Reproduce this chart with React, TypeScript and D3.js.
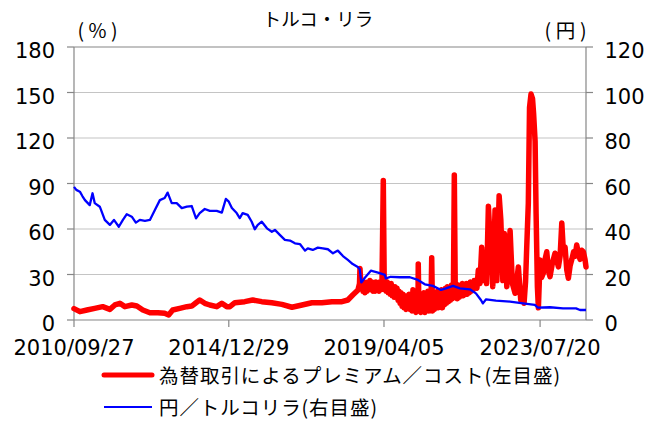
import React, { useRef, useEffect } from "react";
import * as d3 from "d3";

// 為替取引によるプレミアム／コスト (%), left axis
const premium: [string, number][] = [
  ["2010-09-27", 7.5], ["2010-11-25", 5.5], ["2011-02-04", 6.6], ["2011-04-23", 7.7],
  ["2011-07-12", 8.8], ["2011-09-22", 7], ["2011-11-11", 9.9], ["2012-01-01", 11],
  ["2012-02-20", 8.8], ["2012-04-29", 9.9], ["2012-06-19", 9.2], ["2012-08-18", 6.6],
  ["2012-10-28", 4.8], ["2013-01-16", 4.8], ["2013-03-25", 4.4], ["2013-05-04", 3.3],
  ["2013-06-14", 6.6], ["2013-08-23", 7.7], ["2013-11-03", 8.8], ["2013-12-22", 9.2],
  ["2014-02-03", 11.4], ["2014-03-12", 13.2], ["2014-05-02", 11], ["2014-06-21", 9.9],
  ["2014-08-30", 8.8], ["2014-10-20", 11], ["2014-12-09", 8.8], ["2015-01-09", 8.8],
  ["2015-02-28", 11.4], ["2015-06-07", 12.1], ["2015-08-26", 13.2], ["2015-11-25", 12.1],
  ["2016-03-05", 11.4], ["2016-06-14", 10.3], ["2016-09-23", 8.4], ["2017-01-02", 9.9],
  ["2017-04-11", 11.4], ["2017-07-20", 11.4], ["2017-10-29", 12.1], ["2018-02-07", 12.1],
  ["2018-04-07", 13.2], ["2018-05-26", 16.5], ["2018-07-18", 19.8], ["2018-08-02", 24],
  ["2018-08-07", 34], ["2018-08-17", 22], ["2018-08-27", 26.4], ["2018-09-06", 19],
  ["2018-09-16", 25], ["2018-09-26", 18], ["2018-10-06", 24], ["2018-10-16", 19],
  ["2018-10-26", 25], ["2018-11-05", 20], ["2018-11-15", 26], ["2018-11-25", 20],
  ["2018-12-05", 25], ["2018-12-15", 19], ["2018-12-25", 24], ["2019-01-04", 19],
  ["2019-01-14", 25], ["2019-01-24", 20], ["2019-02-03", 24], ["2019-02-13", 19],
  ["2019-02-23", 25], ["2019-03-05", 20], ["2019-03-16", 25.3], ["2019-03-29", 92],
  ["2019-04-08", 20], ["2019-04-18", 26], ["2019-04-28", 19], ["2019-05-08", 25],
  ["2019-05-18", 18], ["2019-05-28", 24], ["2019-06-07", 17], ["2019-06-17", 24],
  ["2019-06-27", 16], ["2019-07-07", 22], ["2019-07-17", 15], ["2019-07-25", 22],
  ["2019-08-04", 16], ["2019-08-14", 21], ["2019-08-24", 13], ["2019-09-03", 19],
  ["2019-09-13", 11], ["2019-09-23", 18], ["2019-10-03", 9], ["2019-10-13", 17],
  ["2019-10-23", 8], ["2019-11-02", 16], ["2019-11-12", 7], ["2019-11-22", 15],
  ["2019-12-02", 8], ["2019-12-12", 17], ["2019-12-22", 7], ["2020-01-01", 16],
  ["2020-01-11", 6], ["2020-01-21", 20], ["2020-01-31", 7], ["2020-02-10", 15],
  ["2020-02-20", 5], ["2020-03-01", 16], ["2020-03-11", 6], ["2020-03-14", 37],
  ["2020-03-21", 6], ["2020-03-31", 17], ["2020-04-10", 5], ["2020-04-20", 15],
  ["2020-04-30", 6], ["2020-05-10", 18], ["2020-05-20", 5], ["2020-05-30", 16],
  ["2020-06-09", 7], ["2020-06-19", 19], ["2020-06-29", 6], ["2020-07-09", 15],
  ["2020-07-19", 7], ["2020-07-27", 41], ["2020-08-04", 6], ["2020-08-14", 18],
  ["2020-08-24", 7], ["2020-09-03", 16], ["2020-09-13", 8], ["2020-09-23", 19],
  ["2020-10-03", 8], ["2020-10-13", 15], ["2020-10-23", 9], ["2020-11-02", 20],
  ["2020-11-12", 8], ["2020-11-22", 17], ["2020-12-02", 10], ["2020-12-12", 21],
  ["2020-12-22", 11], ["2021-01-01", 22], ["2021-01-11", 12], ["2021-01-21", 20],
  ["2021-01-31", 13], ["2021-02-10", 23], ["2021-02-20", 14], ["2021-03-02", 21],
  ["2021-03-11", 95.6], ["2021-03-21", 15], ["2021-03-31", 22], ["2021-04-10", 14],
  ["2021-04-20", 23], ["2021-04-30", 15], ["2021-05-10", 22], ["2021-05-20", 16],
  ["2021-05-30", 24], ["2021-06-09", 16], ["2021-06-19", 23], ["2021-06-29", 17],
  ["2021-07-09", 24], ["2021-07-19", 17], ["2021-07-29", 22], ["2021-08-08", 18],
  ["2021-08-18", 25], ["2021-08-28", 19], ["2021-09-07", 24], ["2021-09-17", 20],
  ["2021-09-27", 26], ["2021-10-05", 24], ["2021-10-24", 21],
  ["2021-11-07", 33], ["2021-11-23", 24], ["2021-12-11", 48], ["2021-12-27", 26],
  ["2022-01-14", 44], ["2022-01-29", 24], ["2022-02-16", 75], ["2022-02-28", 60],
  ["2022-03-12", 59], ["2022-04-01", 22], ["2022-04-24", 72.5], ["2022-05-12", 26],
  ["2022-06-04", 82], ["2022-06-21", 66], ["2022-07-11", 26], ["2022-07-27", 57],
  ["2022-08-20", 22], ["2022-09-07", 40], ["2022-09-22", 59], ["2022-10-15", 24],
  ["2022-11-11", 17.6], ["2022-11-26", 25], ["2022-12-14", 35], ["2023-01-07", 13],
  ["2023-01-25", 18], ["2023-02-09", 11], ["2023-02-24", 25], ["2023-03-08", 48],
  ["2023-03-24", 77], ["2023-04-05", 140], ["2023-04-20", 149], ["2023-05-05", 146],
  ["2023-05-16", 136], ["2023-05-31", 118], ["2023-06-10", 70], ["2023-06-23", 22],
  ["2023-07-03", 8], ["2023-07-20", 39.6], ["2023-08-04", 28], ["2023-08-22", 31],
  ["2023-09-08", 40], ["2023-09-25", 45], ["2023-10-13", 32], ["2023-10-28", 28.6],
  ["2023-11-22", 38], ["2023-12-17", 44], ["2024-01-20", 35], ["2024-02-06", 42],
  ["2024-02-23", 64], ["2024-03-10", 45], ["2024-03-27", 48], ["2024-04-13", 33],
  ["2024-04-29", 27.5], ["2024-05-17", 36], ["2024-06-03", 40], ["2024-06-21", 45],
  ["2024-07-05", 42], ["2024-07-22", 49.5], ["2024-08-07", 44], ["2024-08-24", 40],
  ["2024-09-10", 46], ["2024-09-26", 45], ["2024-10-13", 40], ["2024-10-23", 35],
];

// 円／トルコリラ (円), right axis
const jpyTry: [string, number][] = [
  ["2010-09-27", 58.5], ["2010-10-20", 57.2], ["2010-11-25", 56.4], ["2010-12-20", 54.5],
  ["2011-01-15", 52.7], ["2011-03-04", 50.5], ["2011-04-01", 55.7], ["2011-04-23", 51.4],
  ["2011-06-13", 49.8], ["2011-08-02", 44], ["2011-09-22", 41.8], ["2011-11-02", 44],
  ["2011-12-21", 41], ["2012-01-31", 44], ["2012-03-10", 46.5], ["2012-04-29", 45.4],
  ["2012-06-09", 42.8], ["2012-07-19", 44], ["2012-09-08", 43.6], ["2012-10-28", 44],
  ["2012-12-17", 48.4], ["2013-02-05", 52.7], ["2013-03-25", 53.6], ["2013-04-24", 56],
  ["2013-06-04", 51.4], ["2013-07-24", 51.4], ["2013-09-13", 49.2], ["2013-11-03", 49.8],
  ["2013-12-22", 50.1], ["2014-02-03", 44.7], ["2014-03-12", 47], ["2014-05-02", 48.8],
  ["2014-06-21", 48], ["2014-08-30", 48], ["2014-10-20", 47.2], ["2014-11-29", 53.2],
  ["2014-12-29", 52], ["2015-01-29", 49.2], ["2015-03-18", 47], ["2015-04-18", 44.8],
  ["2015-05-17", 47], ["2015-07-07", 46.2], ["2015-08-16", 43.2], ["2015-09-16", 39.9],
  ["2015-10-16", 41.8], ["2015-11-25", 43.2], ["2016-01-16", 40.3], ["2016-03-05", 38.8],
  ["2016-04-05", 39.6], ["2016-05-24", 37.4], ["2016-07-14", 35.2], ["2016-09-03", 34.9],
  ["2016-10-23", 33.7], ["2016-12-12", 33.4], ["2017-02-01", 30.5], ["2017-03-01", 31.5],
  ["2017-04-20", 30.8], ["2017-06-10", 31.8], ["2017-07-30", 31.5], ["2017-09-19", 31.1],
  ["2017-11-09", 29.3], ["2017-12-28", 30.5], ["2018-02-17", 28.1], ["2018-04-07", 26.4],
  ["2018-05-26", 24.6], ["2018-07-16", 23.3], ["2018-08-05", 22.3], ["2018-08-20", 16.5],
  ["2018-09-25", 18.6], ["2018-11-24", 21.7], ["2019-02-04", 20.8], ["2019-04-14", 19.8],
  ["2019-04-23", 18.3], ["2019-06-13", 19], ["2019-09-12", 18.8], ["2019-12-21", 18.8],
  ["2020-03-10", 17.6], ["2020-05-19", 15.7], ["2020-08-08", 15], ["2020-10-28", 13.2],
  ["2020-12-17", 13.9], ["2021-02-26", 15], ["2021-05-06", 13.9], ["2021-08-14", 13.5],
  ["2021-10-14", 11.7], ["2021-12-03", 8.8], ["2021-12-23", 7.3], ["2022-01-24", 9.1],
  ["2022-05-03", 8.5], ["2022-09-21", 8.1], ["2023-01-30", 7.3], ["2023-05-28", 6.6],
  ["2023-06-28", 5.4], ["2023-10-27", 5.6], ["2024-03-06", 5.1], ["2024-07-15", 5.1],
  ["2024-08-24", 4.4], ["2024-10-23", 4.4],
];

const leftTicks = [0, 30, 60, 90, 120, 150, 180];
const rightTicks = [0, 20, 40, 60, 80, 100, 120];
const dateTicks = ["2010-09-27", "2014-12-29", "2019-04-05", "2023-07-20"];
const dateRange = ["2010-09-27", "2024-10-23"];

const App = () => {
  const container = useRef<SVGSVGElement>(null);

  // dimensions
  const width = 653;
  const height = 422;
  const plot = { left: 74, right: 586, top: 47, bottom: 320 };

  useEffect(() => {
    const svg = d3.select(container.current);
    svg.selectAll("*").remove();

    const parse = d3.timeParse("%Y-%m-%d");
    const fmt = d3.timeFormat("%Y/%m/%d");
    const numFont = "'DejaVu Sans', sans-serif";
    const jpFont = "'Noto Sans CJK JP', sans-serif";

    // scales
    const xScale = d3
      .scaleTime()
      .domain(dateRange.map(d => parse(d)) as [Date, Date])
      .range([plot.left, plot.right]);
    const yLeft = d3.scaleLinear().domain([0, 180]).range([plot.bottom, plot.top]);
    const yRight = d3.scaleLinear().domain([0, 120]).range([plot.bottom, plot.top]);

    // gridlines
    svg
      .append("g")
      .selectAll("line")
      .data(leftTicks.filter(t => t > 0 && t < 180))
      .enter()
      .append("line")
      .attr("x1", plot.left)
      .attr("x2", plot.right)
      .attr("y1", d => yLeft(d))
      .attr("y2", d => yLeft(d))
      .attr("stroke", "#c4c4c4")
      .attr("stroke-width", 1.2);

    // frame / axes
    const axisColor = "#868686";
    const frame = svg.append("g").attr("stroke", axisColor).attr("stroke-width", 1.2);
    frame.append("line").attr("x1", plot.left).attr("x2", plot.right).attr("y1", plot.top).attr("y2", plot.top);
    frame.append("line").attr("x1", plot.left).attr("x2", plot.right).attr("y1", plot.bottom).attr("y2", plot.bottom);
    frame.append("line").attr("x1", plot.left).attr("x2", plot.left).attr("y1", plot.top).attr("y2", plot.bottom);
    frame.append("line").attr("x1", plot.right).attr("x2", plot.right).attr("y1", plot.top).attr("y2", plot.bottom);

    // tick marks
    frame
      .selectAll(".lt")
      .data(leftTicks)
      .enter()
      .append("line")
      .attr("x1", plot.left - 7)
      .attr("x2", plot.left)
      .attr("y1", d => yLeft(d))
      .attr("y2", d => yLeft(d));
    frame
      .selectAll(".rt")
      .data(rightTicks)
      .enter()
      .append("line")
      .attr("x1", plot.right)
      .attr("x2", plot.right + 7)
      .attr("y1", d => yRight(d))
      .attr("y2", d => yRight(d));
    frame
      .selectAll(".bt")
      .data(dateTicks)
      .enter()
      .append("line")
      .attr("x1", d => xScale(parse(d)!))
      .attr("x2", d => xScale(parse(d)!))
      .attr("y1", plot.bottom)
      .attr("y2", plot.bottom + 7);

    // tick labels
    svg
      .append("g")
      .selectAll("text")
      .data(leftTicks)
      .enter()
      .append("text")
      .attr("x", 55)
      .attr("y", d => yLeft(d) + 11)
      .attr("text-anchor", "end")
      .style("font-family", numFont)
      .style("font-size", "21px")
      .style("fill", "#000")
      .text(d => d);

    svg
      .append("g")
      .selectAll("text")
      .data(rightTicks)
      .enter()
      .append("text")
      .attr("x", 604.5)
      .attr("y", d => yRight(d) + 11)
      .style("font-family", numFont)
      .style("font-size", "21px")
      .style("fill", "#000")
      .text(d => d);

    svg
      .append("g")
      .selectAll("text")
      .data(dateTicks)
      .enter()
      .append("text")
      .attr("x", d => xScale(parse(d)!))
      .attr("y", 355)
      .attr("text-anchor", "middle")
      .style("font-family", numFont)
      .style("font-size", "21px")
      .style("fill", "#000")
      .text(d => fmt(parse(d)!));

    // lines
    const line = (y: d3.ScaleLinear<number, number>) =>
      d3
        .line<[string, number]>()
        .x(d => xScale(parse(d[0])!))
        .y(d => y(d[1]));

    svg
      .append("path")
      .datum(premium)
      .attr("d", line(yLeft))
      .attr("fill", "none")
      .attr("stroke", "#ff0000")
      .attr("stroke-width", 5.5)
      .attr("stroke-linejoin", "round")
      .attr("stroke-linecap", "round");

    svg
      .append("path")
      .datum(jpyTry)
      .attr("d", line(yRight))
      .attr("fill", "none")
      .attr("stroke", "#0000ff")
      .attr("stroke-width", 2.3)
      .attr("stroke-linejoin", "round");

    // titles
    const jp = (txt: string, x: number, y: number, size: number, anchor = "middle") =>
      svg
        .append("text")
        .attr("x", x)
        .attr("y", y)
        .attr("text-anchor", anchor)
        .style("font-family", jpFont)
        .style("font-size", `${size}px`)
        .style("fill", "#000")
        .text(txt);

    jp("トルコ・リラ", 318, 26, 18.5);
    jp("(%)", 97.5, 37.5, 19.5).attr("textLength", 40).attr("lengthAdjust", "spacing");
    jp("(円)", 565.5, 37.5, 19.5).attr("textLength", 42).attr("lengthAdjust", "spacing");

    // legend
    const legend = [
      { label: "為替取引によるプレミアム／コスト(左目盛)", color: "#ff0000", w: 5, y: 375, len: 401 },
      { label: "円／トルコリラ(右目盛)", color: "#0000ff", w: 2, y: 407, len: 218 },
    ];
    legend.forEach(l => {
      svg
        .append("line")
        .attr("x1", 104)
        .attr("x2", 152)
        .attr("y1", l.y)
        .attr("y2", l.y)
        .attr("stroke", l.color)
        .attr("stroke-width", l.w)
        .attr("stroke-linecap", l.w > 3 ? "round" : "butt");
      jp(l.label, 159, l.y + 7.5, 19.5, "start")
        .attr("textLength", l.len)
        .attr("lengthAdjust", "spacing");
    });
  }, []);

  return (
    <div style={{ position: "fixed", left: 0, top: 0, width, height, background: "#fff" }}>
      <svg ref={container} width={width} height={height} style={{ display: "block" }} />
    </div>
  );
};

export default App;
